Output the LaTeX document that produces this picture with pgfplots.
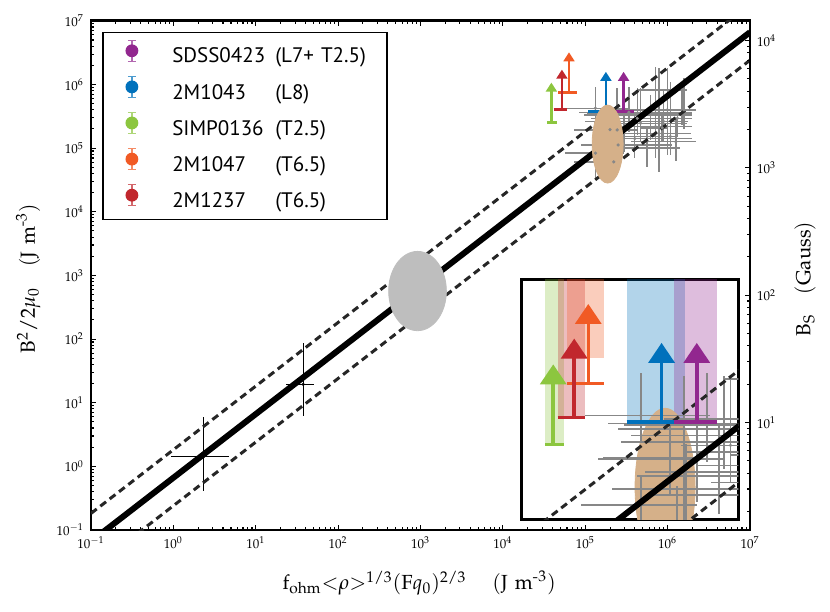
\documentclass[border=0pt]{standalone}
\usepackage[no-math]{fontspec}
\usepackage{amsmath}
\usepackage{mathpazo}
\DeclareSymbolFont{operators}{OT1}{ppl}{m}{n}
\newfontfamily\legfont{PT Sans}
\usepackage{pgfplots}
\usepackage{pgfplotstable}
\pgfplotsset{compat=1.18}
\usetikzlibrary{arrows.meta}

\definecolor{cpurple}{HTML}{92278F}
\definecolor{cblue}{HTML}{0071BC}
\definecolor{cgreen}{HTML}{8CC63F}
\definecolor{corange}{HTML}{F15A24}
\definecolor{cred}{HTML}{C1272D}
\definecolor{ctan}{HTML}{D5B089}
\definecolor{cgell}{HTML}{BEBEBE}
\definecolor{cgrey}{HTML}{878787}

% grey sample: centre and error ranges
\pgfplotstableread{
x y xlo xhi ylo yhi
1.33e5 4.23e5 6.03e4 3.54e5 2.61e5 9.23e5
1.33e5 8.32e4 5.74e4 2.94e5 3.37e4 1.43e5
2.22e5 6.07e4 7.24e4 2.68e5 4.28e4 1.19e5
2.44e5 1.93e5 7.24e4 4.28e5 5.45e4 8.71e5
2.94e5 3.32e5 9.59e4 1.99e6 8.81e4 8.71e5
3.38e5 3.66e5 8.34e4 1.73e6 1.82e5 9.23e5
4.28e5 2.94e5 1.16e5 1.90e6 1.61e5 8.71e5
4.69e5 2.46e5 2.33e5 1.73e6 1.26e5 8.71e5
7.13e5 2.18e5 2.55e5 1.99e6 6.93e4 1.90e6
7.82e5 1.71e5 2.94e5 1.90e6 4.28e4 1.79e6
8.59e5 2.08e5 4.69e5 9.89e5 1.26e5 3.32e5
9.89e5 3.98e5 1.85e5 1.57e6 7.82e4 1.79e6
1.08e6 1.52e5 1.40e5 1.31e6 7.82e4 1.11e6
1.31e6 2.94e5 3.54e5 1.99e6 1.52e5 3.74e5
1.50e6 8.20e5 4.28e5 1.73e6 2.31e5 1.04e6
6.19e5 3.32e5 9.59e4 1.99e6 1.35e5 6.84e5
2.51e5 1.12e5 8.91e4 1.12e6 5.62e4 2.51e5
3.98e5 1.41e5 1.26e5 2.00e6 7.08e4 3.55e5
5.62e5 1.00e5 1.58e5 1.41e6 5.01e4 2.00e5
8.91e5 2.63e5 1.00e5 1.78e6 1.26e5 7.94e5
1.26e6 1.26e5 3.55e5 2.24e6 6.31e4 2.82e5
2.00e5 1.95e5 7.76e4 3.16e5 1.00e5 3.98e5
7.08e5 3.55e5 1.05e5 2.00e6 1.78e5 1.78e6
1.58e6 3.98e5 5.01e5 2.24e6 2.00e5 1.26e6
}\greycross

\pgfplotstableread{
x y xlo xhi ylo yhi
2.32 1.42 0.938 4.71 0.414 5.87
37.7 19.4 23.4 51.3 6.22 87.1
}\blackcross

\pgfplotsset{
  errimg/.style={legend image code/.code={
    \path[draw=none, fill=none] (0pt,0pt) rectangle (34.7pt,0.1pt);
    \draw[line width=0.6pt, opacity=0.7] (14.5pt,-1.6pt)--(14.5pt,8.8pt)
       (12.5pt,-1.6pt)--(16.5pt,-1.6pt) (12.5pt,8.8pt)--(16.5pt,8.8pt);
    \fill (14.5pt,3.6pt) circle (2.9pt);
  }},
  crossbars/.style 2 args={only marks, mark=*, mark size=0.6pt, color=#1, forget plot,
    error bars/.cd, x dir=both, y dir=both, x explicit, y explicit, error mark=none,
    error bar style={line width=#2, #1}},
  /pgfplots/table/crosscols/.style={
    /pgfplots/table/x=x, /pgfplots/table/y=y,
    /pgfplots/table/x error plus expr=\thisrow{xhi}-\thisrow{x},
    /pgfplots/table/x error minus expr=\thisrow{x}-\thisrow{xlo},
    /pgfplots/table/y error plus expr=\thisrow{yhi}-\thisrow{y},
    /pgfplots/table/y error minus expr=\thisrow{y}-\thisrow{ylo}},
  ell/.style 2 args={only marks, mark=*, color=#1, mark size=#2, forget plot},
  dashl/.style={black!85, line width=1.5pt, dash pattern=on 3.6pt off 2.3pt, forget plot},
}

\def\minorlist{0.2,0.3,0.4,0.5,0.6,0.7,0.8,0.9,2,3,4,5,6,7,8,9,20,30,40,50,60,70,80,90,200,300,400,500,600,700,800,900,2000,3000,4000,5000,6000,7000,8000,9000,2e4,3e4,4e4,5e4,6e4,7e4,8e4,9e4,2e5,3e5,4e5,5e5,6e5,7e5,8e5,9e5,2e6,3e6,4e6,5e6,6e6,7e6,8e6,9e6}

\begin{document}
\begin{tikzpicture}
\useasboundingbox (0,0) rectangle (415pt,305.5pt);

% ---------------- main axis ----------------
\begin{axis}[
  at={(45.5pt,40.5pt)}, anchor=south west,
  width=329.5pt, height=254.6pt, scale only axis,
  xmode=log, ymode=log, xmin=0.1, xmax=1e7, ymin=0.1, ymax=1e7,
  xtick={0.1,1,10,100,1000,1e4,1e5,1e6,1e7},
  ytick={0.1,1,10,100,1000,1e4,1e5,1e6,1e7},
  minor xtick/.expanded={\minorlist}, minor ytick/.expanded={\minorlist},
  xtick pos=both, ytick pos=left, tick align=inside,
  major tick length=2.5pt, minor tick length=1.4pt,
  tick style={black, line width=0.55pt},
  axis line style={line width=1.3pt},
  ticklabel style={font=\fontsize{6.5}{7}\selectfont},
  label style={font=\fontsize{10.2}{12}\selectfont},
  xlabel={$\mathrm{f}_{\mathrm{ohm}}{<}\rho{>}^{1/3}(\mathrm{F}q_0)^{2/3}\hspace{13pt}(\mathrm{J\ m}^{\text{-}3})$},
  ylabel={$\mathrm{B}^2/2\mu_0\quad(\mathrm{J\ m}^{\text{-}3})$},
  xlabel style={at={(axis description cs:0.498,-0.104)}, anchor=center},
  ylabel style={at={(axis description cs:-0.0951,0.494)}, anchor=center},
  legend style={at={(0.01715,0.9786)}, anchor=north west, draw=black,
    line width=0.6pt, font=\legfont\fontsize{10.5}{12}\selectfont,
    inner xsep=0pt, inner ysep=3.75pt, row sep=3.95pt, column sep=0pt,
    nodes={inner sep=0pt, text height=7.5pt, text depth=2.5pt, text width=107.3pt, align=left}},
  legend cell align=left,
]
% ellipses
\addplot[ell={cgell}{19.83pt}, mark options={xscale=0.7276}] coordinates {(920,568)};
\addplot[ell={ctan}{19.5pt}, mark options={xscale=0.397}] coordinates {(1.87e5,1.156e5)};
% error crosses
\addplot[crossbars={cgrey}{0.7pt}] table[crosscols] {\greycross};
\addplot[crossbars={black}{0.65pt}] table[crosscols] {\blackcross};
% relations
\addplot[black, line width=3pt, forget plot] coordinates {(0.1,0.0662) (1e7,6.62e6)};
\addplot[dashl] coordinates {(0.1,0.1823) (1e7,1.823e7)};
\addplot[dashl] coordinates {(0.1,0.02404) (1e7,2.404e6)};
% lower limits
\addplot[cgreen, line width=1.5pt, forget plot] coordinates {(3.47e4,2.51e5) (4.49e4,2.51e5)};
\addplot[cred, line width=1.5pt, forget plot] coordinates {(4.13e4,4.10e5) (6.07e4,4.10e5)};
\addplot[corange, line width=1.5pt, forget plot] coordinates {(4.69e4,7.60e5) (7.92e4,7.60e5)};
\addplot[cblue, line width=1.5pt, forget plot] coordinates {(1.09e5,3.75e5) (2.47e5,3.75e5)};
\addplot[cpurple, line width=1.5pt, forget plot] coordinates {(2.12e5,3.75e5) (3.88e5,3.75e5)};
\addplot[cgreen, line width=1.25pt, -{Triangle[width=5.4pt,length=4.5pt]}, forget plot] coordinates {(3.88e4,2.51e5) (3.88e4,1.07e6)};
\addplot[cred, line width=1.25pt, -{Triangle[width=5.4pt,length=4.5pt]}, forget plot] coordinates {(5.21e4,4.10e5) (5.21e4,1.71e6)};
\addplot[corange, line width=1.25pt, -{Triangle[width=5.4pt,length=4.5pt]}, forget plot] coordinates {(6.35e4,7.60e5) (6.35e4,3.20e6)};
\addplot[cblue, line width=1.25pt, -{Triangle[width=5.4pt,length=4.5pt]}, forget plot] coordinates {(1.78e5,3.75e5) (1.78e5,1.58e6)};
\addplot[cpurple, line width=1.25pt, -{Triangle[width=5.4pt,length=4.5pt]}, forget plot] coordinates {(2.92e5,3.75e5) (2.92e5,1.58e6)};
% legend
\addlegendimage{errimg, cpurple}
\addlegendentry{\makebox[51.5pt][l]{SDSS0423}(L7+ T2.5)}
\addlegendimage{errimg, cblue}
\addlegendentry{\makebox[51.5pt][l]{2M1043}(L8)}
\addlegendimage{errimg, cgreen}
\addlegendentry{\makebox[51.5pt][l]{SIMP0136}(T2.5)}
\addlegendimage{errimg, corange}
\addlegendentry{\makebox[51.5pt][l]{2M1047}(T6.5)}
\addlegendimage{errimg, cred}
\addlegendentry{\makebox[51.5pt][l]{2M1237}(T6.5)}
\end{axis}

% ---------------- right axis: field strength ----------------
\begin{axis}[
  at={(45.5pt,40.5pt)}, anchor=south west,
  width=329.5pt, height=254.6pt, scale only axis,
  xmode=log, ymode=log, xmin=0.1, xmax=1e7, ymin=1.43, ymax=1.43e4,
  axis x line=none, axis y line*=right,
  ytick={10,100,1000,10000},
  minor ytick={2,3,4,5,6,7,8,9,20,30,40,50,60,70,80,90,200,300,400,500,600,700,800,900,2000,3000,4000,5000,6000,7000,8000,9000},
  tick align=inside, major tick length=2.5pt, minor tick length=1.4pt,
  tick style={black, line width=0.55pt},
  axis line style={line width=1.3pt},
  ticklabel style={font=\fontsize{6.5}{7}\selectfont},
  label style={font=\fontsize{10.2}{12}\selectfont},
  ylabel={$\mathrm{B}_{\mathrm{S}}\quad(\mathrm{Gauss})$},
  ylabel style={at={(axis description cs:1.0835,0.493)}, anchor=center},
]
\addplot[draw=none, forget plot] coordinates {(1,10) (10,100)};
\end{axis}

% ---------------- inset ----------------
\begin{axis}[
  at={(260.5pt,45.5pt)}, anchor=south west,
  width=108.65pt, height=120pt, scale only axis,
  xmode=log, ymode=log, xmin=2.466e4, xmax=5.236e5, ymin=6.368e4, ymax=4.943e6,
  ticks=none, axis line style={line width=1.5pt},
  axis background/.style={fill=white},
  clip marker paths=true,
]
% uncertainty bands
\addplot[fill=cgreen, fill opacity=0.3, draw=none, forget plot] coordinates {(3.47e4,2.51e5) (4.49e4,2.51e5) (4.49e4,1e7) (3.47e4,1e7)} -- cycle;
\addplot[fill=cred, fill opacity=0.3, draw=none, forget plot] coordinates {(4.13e4,4.10e5) (6.07e4,4.10e5) (6.07e4,1e7) (4.13e4,1e7)} -- cycle;
\addplot[fill=corange, fill opacity=0.3, draw=none, forget plot] coordinates {(4.69e4,1.20e6) (7.92e4,1.20e6) (7.92e4,1e7) (4.69e4,1e7)} -- cycle;
\addplot[fill=cblue, fill opacity=0.3, draw=none, forget plot] coordinates {(1.09e5,3.75e5) (2.47e5,3.75e5) (2.47e5,1e7) (1.09e5,1e7)} -- cycle;
\addplot[fill=cpurple, fill opacity=0.3, draw=none, forget plot] coordinates {(2.12e5,3.75e5) (3.88e5,3.75e5) (3.88e5,1e7) (2.12e5,1e7)} -- cycle;
\addplot[ell={ctan}{39.4pt}, mark options={xscale=0.381}] coordinates {(1.87e5,1.156e5)};
\addplot[crossbars={cgrey}{0.8pt}] table[crosscols] {\greycross};
\addplot[black, line width=3pt, forget plot] coordinates {(0.1,0.0662) (1e7,6.62e6)};
\addplot[dashl] coordinates {(0.1,0.1823) (1e7,1.823e7)};
\addplot[dashl] coordinates {(0.1,0.02404) (1e7,2.404e6)};
\addplot[cgreen, line width=1.75pt, forget plot] coordinates {(3.47e4,2.51e5) (4.49e4,2.51e5)};
\addplot[cred, line width=1.75pt, forget plot] coordinates {(4.13e4,4.10e5) (6.07e4,4.10e5)};
\addplot[corange, line width=1.75pt, forget plot] coordinates {(4.69e4,7.60e5) (7.92e4,7.60e5)};
\addplot[cblue, line width=1.75pt, forget plot] coordinates {(1.09e5,3.75e5) (2.47e5,3.75e5)};
\addplot[cpurple, line width=1.75pt, forget plot] coordinates {(2.12e5,3.75e5) (3.88e5,3.75e5)};
\addplot[cgreen, line width=1.75pt, -{Triangle[width=13pt,length=10pt]}, forget plot] coordinates {(3.88e4,2.51e5) (3.88e4,1.07e6)};
\addplot[cred, line width=1.75pt, -{Triangle[width=13pt,length=10pt]}, forget plot] coordinates {(5.21e4,4.10e5) (5.21e4,1.71e6)};
\addplot[corange, line width=1.75pt, -{Triangle[width=13pt,length=10pt]}, forget plot] coordinates {(6.35e4,7.60e5) (6.35e4,3.20e6)};
\addplot[cblue, line width=1.75pt, -{Triangle[width=13pt,length=10pt]}, forget plot] coordinates {(1.78e5,3.75e5) (1.78e5,1.58e6)};
\addplot[cpurple, line width=1.75pt, -{Triangle[width=13pt,length=10pt]}, forget plot] coordinates {(2.92e5,3.75e5) (2.92e5,1.58e6)};
\end{axis}
\end{tikzpicture}
\end{document}
